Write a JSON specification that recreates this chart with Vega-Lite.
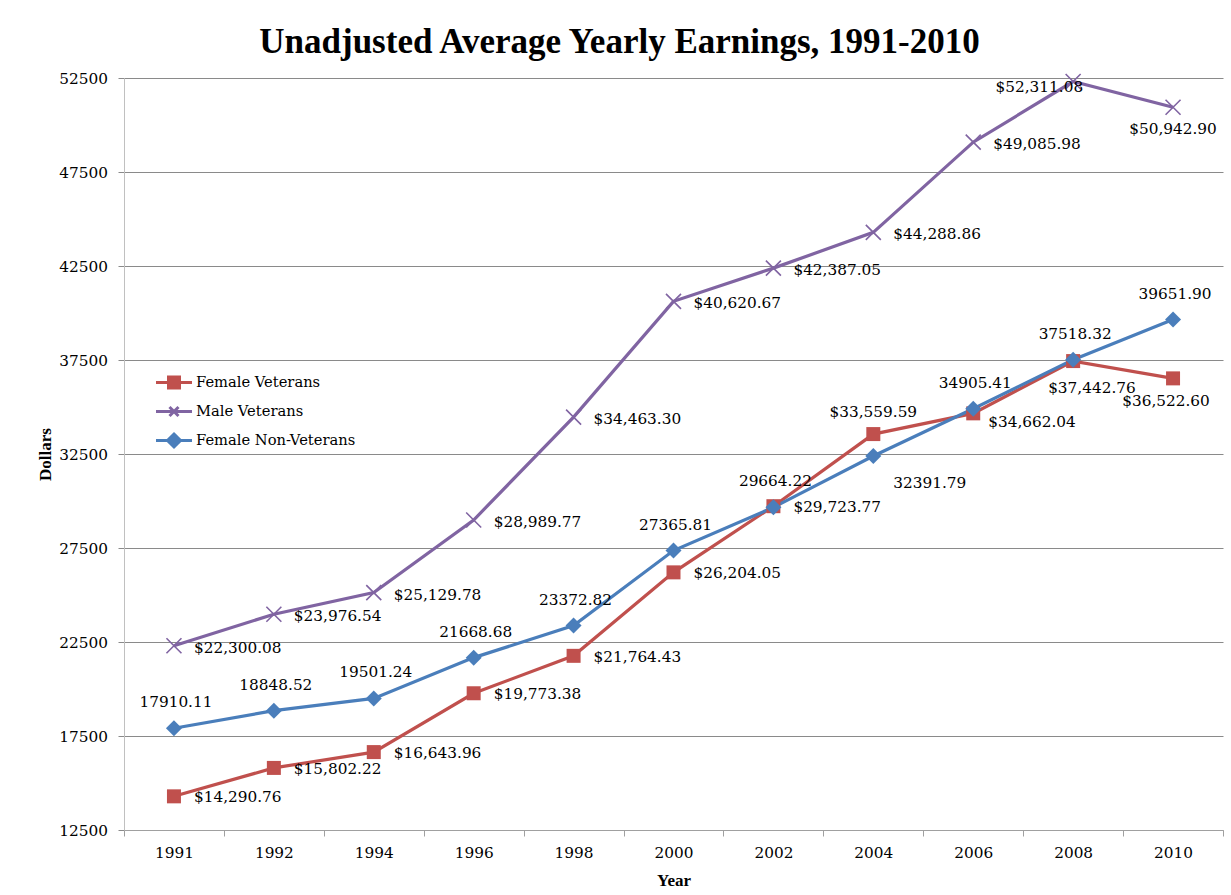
{
  "$schema": "https://vega.github.io/schema/vega-lite/v6.json",
  "width": 1099,
  "height": 752,
  "autosize": {"type": "none"},
  "padding": {"left": 124, "top": 78, "right": 8, "bottom": 65},
  "background": "white",
  "title": {"text": "Unadjusted Average Yearly Earnings, 1991-2010", "anchor": "middle", "dx": -54, "offset": 11, "fontSize": 35, "font": "Liberation Serif", "fontWeight": "bold", "color": "black"},
  "config": {
    "view": {"stroke": null},
    "font": "DejaVu Serif",
    "text": {"font": "DejaVu Serif", "fontSize": 15.3, "color": "black"}
  },
  "data": {"values": [
    {"year": "1991", "series": "Female Veterans", "value": 14290.76},
    {"year": "1992", "series": "Female Veterans", "value": 15802.22},
    {"year": "1994", "series": "Female Veterans", "value": 16643.96},
    {"year": "1996", "series": "Female Veterans", "value": 19773.38},
    {"year": "1998", "series": "Female Veterans", "value": 21764.43},
    {"year": "2000", "series": "Female Veterans", "value": 26204.05},
    {"year": "2002", "series": "Female Veterans", "value": 29723.77},
    {"year": "2004", "series": "Female Veterans", "value": 33559.59},
    {"year": "2006", "series": "Female Veterans", "value": 34662.04},
    {"year": "2008", "series": "Female Veterans", "value": 37442.76},
    {"year": "2010", "series": "Female Veterans", "value": 36522.60},
    {"year": "1991", "series": "Male Veterans", "value": 22300.08},
    {"year": "1992", "series": "Male Veterans", "value": 23976.54},
    {"year": "1994", "series": "Male Veterans", "value": 25129.78},
    {"year": "1996", "series": "Male Veterans", "value": 28989.77},
    {"year": "1998", "series": "Male Veterans", "value": 34463.30},
    {"year": "2000", "series": "Male Veterans", "value": 40620.67},
    {"year": "2002", "series": "Male Veterans", "value": 42387.05},
    {"year": "2004", "series": "Male Veterans", "value": 44288.86},
    {"year": "2006", "series": "Male Veterans", "value": 49085.98},
    {"year": "2008", "series": "Male Veterans", "value": 52311.08},
    {"year": "2010", "series": "Male Veterans", "value": 50942.90},
    {"year": "1991", "series": "Female Non-Veterans", "value": 17910.11},
    {"year": "1992", "series": "Female Non-Veterans", "value": 18848.52},
    {"year": "1994", "series": "Female Non-Veterans", "value": 19501.24},
    {"year": "1996", "series": "Female Non-Veterans", "value": 21668.68},
    {"year": "1998", "series": "Female Non-Veterans", "value": 23372.82},
    {"year": "2000", "series": "Female Non-Veterans", "value": 27365.81},
    {"year": "2002", "series": "Female Non-Veterans", "value": 29664.22},
    {"year": "2004", "series": "Female Non-Veterans", "value": 32391.79},
    {"year": "2006", "series": "Female Non-Veterans", "value": 34905.41},
    {"year": "2008", "series": "Female Non-Veterans", "value": 37518.32},
    {"year": "2010", "series": "Female Non-Veterans", "value": 39651.90}
  ]},
  "encoding": {
    "x": {
      "field": "year", "type": "ordinal",
      "scale": {"type": "band", "paddingInner": 0, "paddingOuter": 0},
      "title": "Year",
      "axis": {"labelAngle": 0, "tickBand": "extent", "grid": false, "domainColor": "#a0a0a0", "tickColor": "#a0a0a0", "tickSize": 6, "labelFontSize": 15.3, "labelFont": "DejaVu Serif", "labelColor": "black", "labelPadding": 9, "titleFont": "Liberation Serif", "titleFontSize": 17, "titleFontWeight": "bold", "titleColor": "black", "titleY": 50, "titleBaseline": "middle"}
    },
    "y": {
      "field": "value", "type": "quantitative",
      "scale": {"domain": [12500, 52500], "nice": false, "zero": false},
      "title": "Dollars",
      "axis": {"values": [12500, 17500, 22500, 27500, 32500, 37500, 42500, 47500, 52500], "format": "d", "grid": true, "gridColor": "#8a8a8a", "gridWidth": 1, "domainColor": "#c0c0c0", "tickColor": "#8a8a8a", "tickSize": 6, "labelFontSize": 15.3, "labelFont": "DejaVu Serif", "labelColor": "black", "labelPadding": 10.5, "titleFont": "Liberation Serif", "titleFontSize": 17, "titleFontWeight": "bold", "titleColor": "black", "titleX": -79, "titleY": 376, "titleAngle": -90, "titleBaseline": "middle"}
    }
  },
  "layer": [
    {
      "mark": {"type": "line", "strokeWidth": 3.2},
      "encoding": {
        "color": {
          "field": "series", "type": "nominal",
          "scale": {"domain": ["Female Veterans", "Male Veterans", "Female Non-Veterans"], "range": ["#C0504D", "#8064A2", "#4A7EBB"]},
          "legend": {
            "orient": "none", "legendX": 38.5, "legendY": 293, "title": null, "padding": 0,
            "symbolSize": 400, "symbolStrokeWidth": 3, "labelOffset": 10.5, "rowPadding": 6,
            "labelFont": "DejaVu Serif", "labelFontSize": 14.7, "labelColor": "black",
            "encode": {"symbols": {"update": {
              "shape": {"signal": "datum.value === 'Female Veterans' ? 'M-1.8,0H1.8M-0.55,-0.55H0.55V0.55H-0.55Z' : datum.value === 'Male Veterans' ? 'M-1.8,0H1.8M-0.45,-0.45L0.45,0.45M-0.45,0.45L0.45,-0.45' : 'M-1.8,0H1.8M0,-0.65L0.65,0L0,0.65L-0.65,0Z'"},
              "fill": {"signal": "datum.value === 'Female Veterans' ? '#C0504D' : datum.value === 'Male Veterans' ? '#8064A2' : '#4A7EBB'"},
              "stroke": {"signal": "datum.value === 'Female Veterans' ? '#C0504D' : datum.value === 'Male Veterans' ? '#8064A2' : '#4A7EBB'"},
              "strokeWidth": {"value": 3},
              "opacity": {"value": 1}
            }}}
          }
        }
      }
    },
    {
      "transform": [{"filter": "datum.series === 'Female Veterans'"}],
      "mark": {"type": "point", "shape": "square", "size": 196, "filled": true, "opacity": 1},
      "encoding": {"color": {"field": "series", "type": "nominal", "legend": null}}
    },
    {
      "transform": [{"filter": "datum.series === 'Male Veterans'"}],
      "mark": {"type": "point", "shape": "M-1,-1L1,1M-1,1L1,-1", "size": 225, "filled": false, "strokeWidth": 1.6, "opacity": 1},
      "encoding": {"color": {"field": "series", "type": "nominal", "legend": null}}
    },
    {
      "transform": [{"filter": "datum.series === 'Female Non-Veterans'"}],
      "mark": {"type": "point", "shape": "diamond", "size": 256, "filled": true, "opacity": 1},
      "encoding": {"color": {"field": "series", "type": "nominal", "legend": null}}
    },
    {
      "transform": [{"filter": "datum.series === 'Female Veterans' && indexof(['2004','2006','2008','2010'], datum.year) < 0"}],
      "mark": {"type": "text", "align": "left", "baseline": "middle", "dx": 20, "dy": 1},
      "encoding": {"text": {"field": "value", "type": "quantitative", "format": "$,.2f"}}
    },
    {
      "transform": [{"filter": "datum.series === 'Female Veterans' && datum.year === '2004'"}],
      "mark": {"type": "text", "align": "center", "baseline": "middle", "dx": 0, "dy": -22},
      "encoding": {"text": {"field": "value", "type": "quantitative", "format": "$,.2f"}}
    },
    {
      "transform": [{"filter": "datum.series === 'Female Veterans' && datum.year === '2006'"}],
      "mark": {"type": "text", "align": "left", "baseline": "middle", "dx": 15, "dy": 9},
      "encoding": {"text": {"field": "value", "type": "quantitative", "format": "$,.2f"}}
    },
    {
      "transform": [{"filter": "datum.series === 'Female Veterans' && datum.year === '2008'"}],
      "mark": {"type": "text", "align": "left", "baseline": "middle", "dx": -25, "dy": 27},
      "encoding": {"text": {"field": "value", "type": "quantitative", "format": "$,.2f"}}
    },
    {
      "transform": [{"filter": "datum.series === 'Female Veterans' && datum.year === '2010'"}],
      "mark": {"type": "text", "align": "center", "baseline": "middle", "dx": -7, "dy": 23},
      "encoding": {"text": {"field": "value", "type": "quantitative", "format": "$,.2f"}}
    },
    {
      "transform": [{"filter": "datum.series === 'Male Veterans' && indexof(['2008','2010'], datum.year) < 0"}],
      "mark": {"type": "text", "align": "left", "baseline": "middle", "dx": 20, "dy": 2},
      "encoding": {"text": {"field": "value", "type": "quantitative", "format": "$,.2f"}}
    },
    {
      "transform": [{"filter": "datum.series === 'Male Veterans' && datum.year === '2008'"}],
      "mark": {"type": "text", "align": "right", "baseline": "middle", "dx": 10, "dy": 5},
      "encoding": {"text": {"field": "value", "type": "quantitative", "format": "$,.2f"}}
    },
    {
      "transform": [{"filter": "datum.series === 'Male Veterans' && datum.year === '2010'"}],
      "mark": {"type": "text", "align": "center", "baseline": "middle", "dx": 0, "dy": 22},
      "encoding": {"text": {"field": "value", "type": "quantitative", "format": "$,.2f"}}
    },
    {
      "transform": [{"filter": "datum.series === 'Female Non-Veterans' && datum.year !== '2004'"}],
      "mark": {"type": "text", "align": "center", "baseline": "middle", "dx": 2, "dy": -26},
      "encoding": {"text": {"field": "value", "type": "quantitative", "format": ".2f"}}
    },
    {
      "transform": [{"filter": "datum.series === 'Female Non-Veterans' && datum.year === '2004'"}],
      "mark": {"type": "text", "align": "left", "baseline": "middle", "dx": 20, "dy": 27},
      "encoding": {"text": {"field": "value", "type": "quantitative", "format": ".2f"}}
    }
  ]
}
